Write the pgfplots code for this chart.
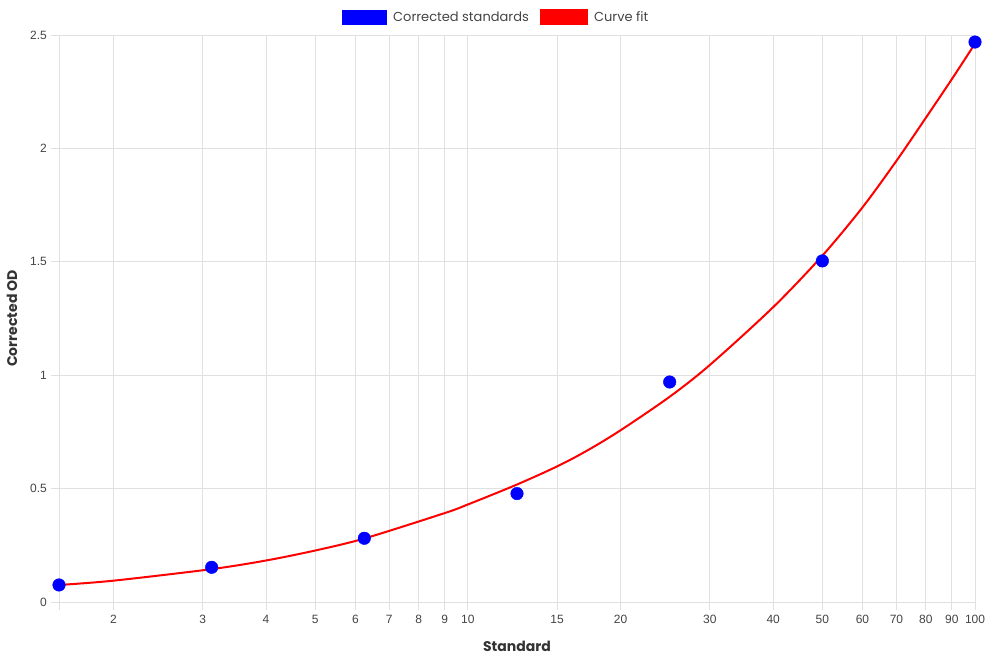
\documentclass[border=0pt]{standalone}
\usepackage{pgfplots}
\pgfplotsset{compat=1.18}
\usepackage{fontspec}
\setmainfont{Poppins}
\newfontfamily\arialfont{Liberation Sans}
\definecolor{gridc}{HTML}{E0E0E0}
\definecolor{tickc}{HTML}{444444}
\definecolor{titc}{HTML}{333333}
\begin{document}
\begin{tikzpicture}
\begin{axis}[
  scale only axis,
  width=916bp, height=567bp,
  xmode=log, log basis x=10,
  xmin=1.5625, xmax=100, ymin=0, ymax=2.5,
  xtick={2,3,4,5,6,7,8,9,10,15,20,30,40,50,60,70,80,90,100},
  xticklabels={2,3,4,5,6,7,8,9,10,15,20,30,40,50,60,70,80,90,100},
  extra x ticks={1.5625}, extra x tick labels={},
  ytick={0,0.5,1,1.5,2,2.5},
  yticklabels={0,0.5,1,1.5,2,2.5},
  minor tick num=0,
  grid=major,
  major grid style={draw=gridc, line width=0.8bp},
  axis line style={draw=gridc, line width=0.8bp},
  tick style={draw=gridc, line width=0.8bp},
  tick align=outside, tick pos=left,
  major tick length=8bp,
  /pgf/number format/assume math mode=true,
  tick label style={font=\arialfont\fontsize{12bp}{14bp}\selectfont, text=tickc},
  xticklabel style={inner sep=0pt, yshift=-5bp},
  yticklabel style={inner sep=0pt, xshift=-4bp},
  xlabel={Standard},
  ylabel={Corrected OD},
  label style={font=\bfseries\fontsize{14bp}{16bp}\selectfont, text=titc},
  xlabel style={at={(axis description cs:0.5,-0.0776)}, anchor=center},
  ylabel style={at={(axis description cs:-0.0513,0.5)}, anchor=center},
  legend columns=2,
  legend style={at={(axis description cs:0.476,1.0317)}, anchor=center,
    draw=none, fill=none, inner sep=0pt,
    font=\fontsize{13bp}{15bp}\selectfont, text=tickc,
    nodes={inner sep=0pt, anchor=west},
    /tikz/every odd column/.append style={column sep=6.6bp},
    /tikz/every even column/.append style={column sep=10.7bp}},
]
\addplot[only marks, mark=*, mark size=6.3bp, color=blue, fill=blue,
  legend image code/.code={\fill[blue] (0bp,-7bp) rectangle (44.5bp,7bp);}]
  coordinates {(1.5625,0.075) (3.125,0.153) (6.25,0.281) (12.5,0.478) (25,0.970) (50,1.504) (100,2.469)};
\addlegendentry{Corrected standards}
\addplot[smooth, color=red, line width=2bp, no marks,
  legend image code/.code={\fill[red] (0bp,-7bp) rectangle (46bp,7bp);}]
  coordinates {(1.5625,0.075) (2,0.094) (3.125,0.145) (4,0.183) (5,0.227) (6.25,0.280) (9,0.392) (10,0.430) (12.5,0.518) (15,0.598) (17.2,0.668) (20,0.757) (25,0.905) (30,1.045) (40,1.300) (50,1.527) (60,1.740) (70,1.945) (80,2.135) (90,2.305) (100,2.462)};
\addlegendentry{Curve fit}
\end{axis}
\pgfresetboundingbox
\path ([shift={(-59bp,-58bp)}]current axis.south west) rectangle ++(990bp,660bp);
\end{tikzpicture}
\end{document}
